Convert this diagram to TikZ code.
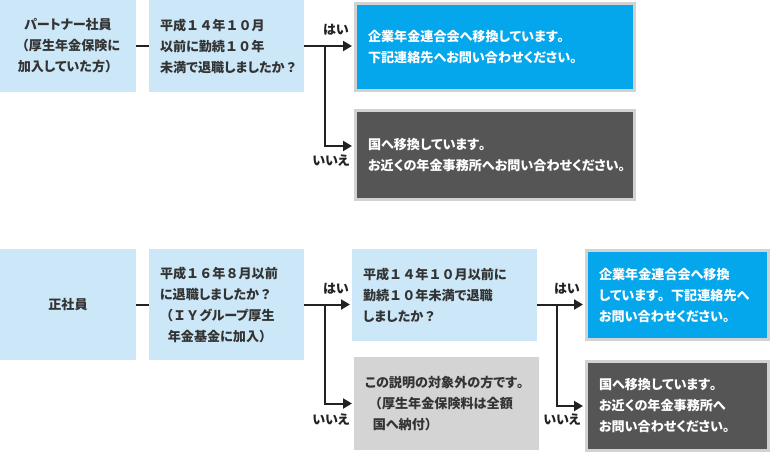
\documentclass[tikz,border=0pt]{standalone}
\usepackage{fontspec}
\setmainfont{Noto Sans CJK JP}[RawFeature=+palt]
\newfontfamily\zenkaku{Noto Sans CJK JP}
\newcommand\fullw[1]{{\zenkaku #1}}
\usetikzlibrary{arrows.meta}
\definecolor{paleblue}{HTML}{CCE8F8}
\definecolor{skyblue}{HTML}{04A6EC}
\definecolor{darkgrey}{HTML}{555555}
\definecolor{lightgrey}{HTML}{D4D4D4}
\definecolor{rimgrey}{HTML}{D2D2D2}
\definecolor{inkgrey}{HTML}{333333}
\definecolor{linegrey}{HTML}{222222}
\tikzset{
  qbox/.style={anchor=north west,inner xsep=11pt,inner ysep=0pt,outer sep=0pt,
    fill=paleblue,text=inkgrey,font=\bfseries\fontsize{13.1}{21}\selectfont},
  nbox/.style={qbox,fill=lightgrey},
  abox/.style={anchor=north west,inner xsep=12.5pt,inner ysep=0pt,outer sep=0pt,
    draw=rimgrey,line width=3pt,text=white,font=\bfseries\fontsize{13.1}{21}\selectfont},
  ablue/.style={abox,fill=skyblue},
  adark/.style={abox,fill=darkgrey},
  answer/.style={text=linegrey,inner sep=0pt,font=\bfseries\fontsize{13}{15}\selectfont},
  link/.style={line width=2pt,draw=linegrey}
}
\begin{document}
\begin{tikzpicture}[line join=miter,>={Triangle[length=9pt,width=10pt]},x=1pt,y=-1pt]
\useasboundingbox (0,0) rectangle (770,453);
% upper row
\node [qbox,minimum width=136,minimum height=92,text width=114,align=center] (partner) at (0,0) {パートナー社員\\\fullw{（}厚生年金保険に\\加入していた方\fullw{）}};
\node [qbox,minimum width=155,minimum height=92,text width=133,align=left] (askA) at (149,0) {平成\fullw{１４}年\fullw{１０}月\\以前に勤続\fullw{１０}年\\未満で退職しましたか\fullw{？}};
\node [ablue,minimum width=279,minimum height=87,text width=254,align=left] (fundA) at (355.5,3.5) {企業年金連合会へ移換しています\fullw{。}\\下記連絡先へお問い合わせください\fullw{。}};
\node [adark,minimum width=279,minimum height=89,text width=254,align=left] (stateA) at (355.5,110.5) {国へ移換しています\fullw{。}\\お近くの年金事務所へお問い合わせください\fullw{。}};
\coordinate (jA) at (325,46);
\node [answer] (yesA) at (336,30) {はい};
\node [answer] (noA) at (331,161) {いいえ};
\draw [link] (partner.east)-- (askA.west);
\draw [link,->,shorten >=3.5pt] (askA.east)-- (askA.east -| fundA.west);
\draw [link,->,shorten >=3.5pt] (jA) |- ([yshift=9pt]stateA.west);
% lower row
\node [qbox,minimum width=136,minimum height=111,text width=114,align=center] (regular) at (0,249) {正社員};
\node [qbox,minimum width=155,minimum height=111,text width=133,align=left] (askB) at (149,249) {平成\fullw{１６}年\fullw{８}月以前\\に退職しましたか\fullw{？}\\\fullw{（ＩＹ}グループ厚生\\\hspace*{.6em}年金基金に加入\fullw{）}};
\node [qbox,minimum width=185,minimum height=92,text width=163,align=left] (askC) at (352,249) {平成\fullw{１４}年\fullw{１０}月以前に\\勤続\fullw{１０}年未満で退職\\しましたか\fullw{？}};
\node [nbox,minimum width=185,minimum height=93,text width=163,align=left] (outside) at (354,357) {この説明の対象外の方です\fullw{。}\\\hspace*{.3em}\fullw{（}厚生年金保険料は全額\\\hspace*{.6em}国へ納付\fullw{）}};
\node [ablue,minimum width=182,minimum height=89,text width=157,align=left] (fundB) at (586.5,250.5) {企業年金連合会へ移換\\しています\fullw{。}下記連絡先へ\\お問い合わせください\fullw{。}};
\node [adark,minimum width=182,minimum height=89,text width=157,align=left] (stateB) at (586.5,361.5) {国へ移換しています\fullw{。}\\お近くの年金事務所へ\\お問い合わせください\fullw{。}};
\coordinate (jB) at (325,304.5);
\coordinate (jC) at (557,304.5);
\node [answer] (yesB) at (336,289) {はい};
\node [answer] (noB) at (331,420) {いいえ};
\node [answer] (yesC) at (567,289) {はい};
\node [answer] (noC) at (562,420) {いいえ};
\draw [link] (regular.east)-- (askB.west);
\draw [link,->,shorten >=2pt] (askB.east)-- (askB.east -| askC.west);
\draw [link,->,shorten >=2pt] (jB) |- (outside.west);
\draw [link,->,shorten >=3.5pt] (askC.east |- jC)-- (jC -| fundB.west);
\draw [link,->,shorten >=3.5pt] (jC) |- (stateB.west);
\end{tikzpicture}
\end{document}
